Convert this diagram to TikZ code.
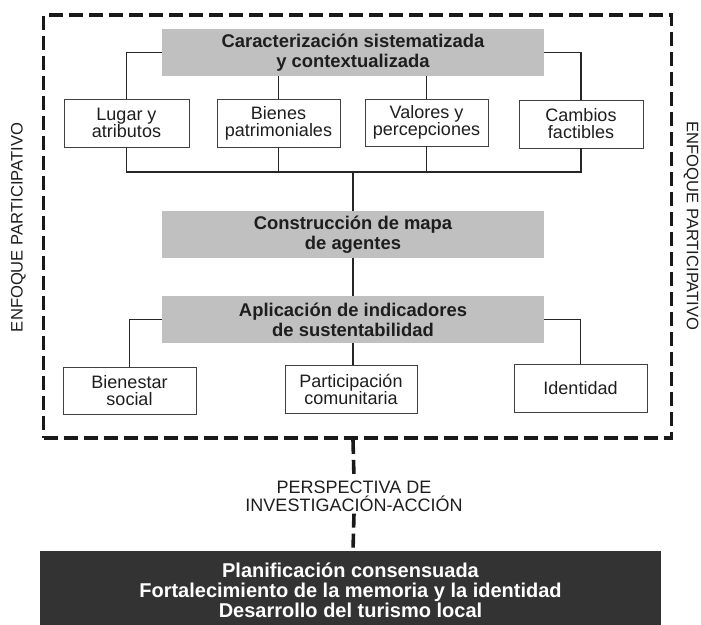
\documentclass[tikz,border=0pt]{standalone}
\usepackage{fontspec}
\setmainfont{Liberation Sans}
\definecolor{boxgray}{RGB}{192,192,192}
\definecolor{darkfill}{RGB}{51,51,51}
\definecolor{ink}{RGB}{30,30,30}
\newcommand\boxfont{\fontsize{18}{17}\selectfont}
\newcommand\titlefont{\bfseries\fontsize{18.4}{20}\selectfont}
\newcommand\sidefont{\fontsize{16.6}{18}\selectfont}
\newcommand\perspfont{\fontsize{18}{18}\selectfont}
\newcommand\darkfont{\bfseries\fontsize{20}{20}\selectfont}
\begin{document}
\begin{tikzpicture}[x=1pt,y=-1pt,
  graybox/.style={fill=boxgray, draw=none, minimum width=382pt, minimum height=47pt, inner sep=0pt, align=center, font=\titlefont, text=ink},
  whitebox/.style={draw=black!75, line width=0.9pt, fill=white, inner sep=0pt, align=center, font=\boxfont, text=ink},
  link/.style={draw=black!85, line width=1.1pt},
  framedash/.style={draw=black!90, line width=3.6pt, dash pattern=on 14pt off 6pt},
  sidetext/.style={font=\sidefont, text=ink, inner sep=0pt},
]
\useasboundingbox (0,0) rectangle (701,624);
% dashed frame
\node[framedash, minimum width=628pt, minimum height=423pt, inner sep=0pt] (frame) at (357.5,226.5) {};
% gray boxes
\node[graybox] (g1) at (353,52.5) {Caracterización sistematizada\\y contextualizada};
\node[graybox] (g2) at (353,234.5) {Construcción de mapa\\de agentes};
\node[graybox] (g3) at (353,319.5) {Aplicación de indicadores\\de sustentabilidad};
% first row
\node[whitebox, minimum width=125pt, minimum height=48pt] (lug) at (126.5,123) {Lugar y\\atributos};
\node[whitebox, minimum width=123pt, minimum height=48pt] (bie) at (278.5,123) {Bienes\\patrimoniales};
\node[whitebox, minimum width=123pt, minimum height=47pt] (val) at (426.5,122.5) {Valores y\\percepciones};
\node[whitebox, minimum width=124pt, minimum height=48pt] (cam) at (581,124) {Cambios\\factibles};
% second row
\node[whitebox, minimum width=133pt, minimum height=47pt] (bien) at (129.5,390.5) {Bienestar\\social};
\node[whitebox, minimum width=132pt, minimum height=48pt] (part) at (351,389) {Participación\\comunitaria};
\node[whitebox, minimum width=133pt, minimum height=48pt] (iden) at (580.5,388) {Identidad};
% side labels
\node[sidetext, rotate=90] (lside) at (18.5,227.5) {ENFOQUE PARTICIPATIVO};
\node[sidetext, rotate=-90] (rside) at (691,226) {ENFOQUE PARTICIPATIVO};
% perspective
\node[font=\perspfont, text=ink, align=center, inner sep=2pt] (persp) at (354,496) {PERSPECTIVA DE\\INVESTIGACIÓN-ACCIÓN};
% dark result box (runs past the bottom edge, as in the reference)
\node[fill=darkfill, minimum width=621pt, minimum height=79pt, inner sep=0pt, align=center, font=\darkfont, text=white] (dark) at (350.5,590.5) {Planificación consensuada\\Fortalecimiento de la memoria y la identidad\\Desarrollo del turismo local};
% bus coordinate
\coordinate (bus) at (353,172);
% connectors top
\draw[link] (g1.west) -| (lug.north);
\draw[link] (g1.east) -| (cam.north);
\draw[link] (g1.south -| bie.north) -- (bie.north);
\draw[link] (g1.south -| val.north) -- (val.north);
\draw[link] (lug.south) -- (lug.south |- bus) -- (cam.south |- bus) -- (cam.south);
\draw[link] (bie.south) -- (bie.south |- bus);
\draw[link] (val.south) -- (val.south |- bus);
\draw[link] (bus) -- (g2.north);
\draw[link] (g2.south) -- (g3.north);
\draw[link] (g3.west) -| (bien.north);
\draw[link] (g3.south) -- (g3.south |- part.north);
\draw[link] (g3.east) -| (iden.north);
% dashed stem
\draw[framedash] (g3.south |- frame.south) -- (persp.north);
\draw[framedash] (persp.south) -- (g3.south |- dark.north);
\end{tikzpicture}
\end{document}
